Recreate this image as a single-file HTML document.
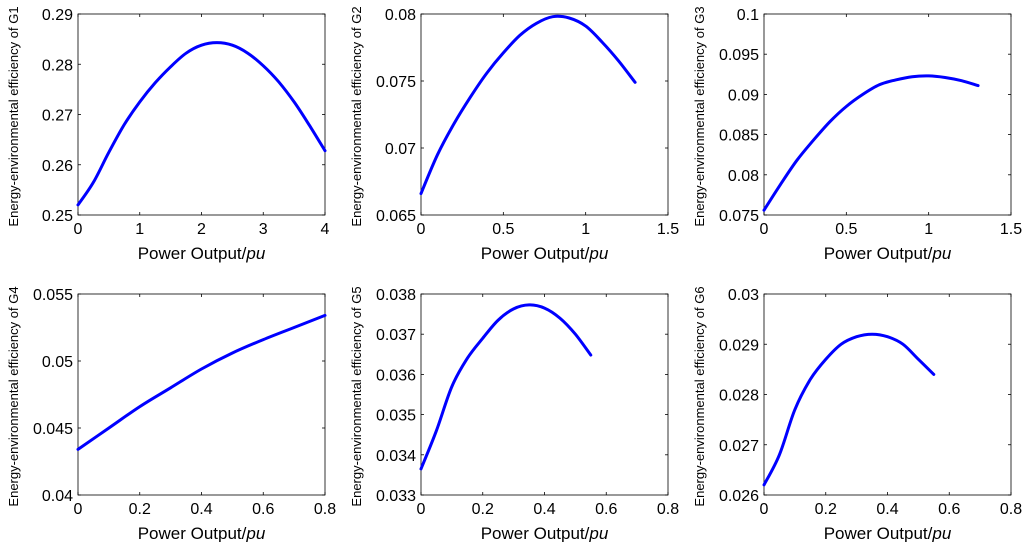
<!DOCTYPE html>
<html><head><meta charset="utf-8"><style>
html,body{margin:0;padding:0;background:#fff;width:1024px;height:542px;overflow:hidden}
svg text{font-family:"Liberation Sans",Arial,sans-serif;fill:#000}
</style></head><body>
<svg id="chart" width="1024" height="542" xmlns="http://www.w3.org/2000/svg"></svg>
<script>
const g1X=[0,0.25,0.5,0.75,1,1.25,1.5,1.75,2,2.25,2.5,2.75,3,3.25,3.5,3.75,4];
const g1Y=[0.252,0.2565,0.2625,0.268,0.2725,0.2763,0.2795,0.2822,0.2838,0.2843,0.2838,0.2822,0.2797,0.2765,0.2725,0.2678,0.2628];
const g2X=[0,0.1,0.2,0.3,0.4,0.5,0.6,0.7,0.8,0.9,1.0,1.1,1.2,1.3];
const g2Y=[0.0666,0.0695,0.0718,0.0738,0.0756,0.0771,0.0784,0.0793,0.0798,0.0797,0.0791,0.0779,0.0765,0.0749];
const g3X=[0,0.1,0.2,0.3,0.4,0.5,0.6,0.7,0.8,0.9,1.0,1.1,1.2,1.3];
const g3Y=[0.0756,0.0788,0.0818,0.0843,0.0866,0.0885,0.09,0.0912,0.0918,0.0922,0.0923,0.0921,0.0917,0.0911];
const g4X=[0,0.1,0.2,0.3,0.4,0.5,0.6,0.7,0.8];
const g4Y=[0.0434,0.045,0.0466,0.048,0.0494,0.0506,0.0516,0.0525,0.0534];
const g5X=[0,0.05,0.1,0.15,0.2,0.25,0.3,0.35,0.4,0.45,0.5,0.55];
const g5Y=[0.03365,0.0346,0.0357,0.0364,0.0369,0.03735,0.03763,0.03773,0.03765,0.0374,0.037,0.03648];
const g6X=[0,0.05,0.1,0.15,0.2,0.25,0.3,0.35,0.4,0.45,0.5,0.55];
const g6Y=[0.0262,0.0268,0.0277,0.0283,0.0287,0.029,0.02915,0.0292,0.02915,0.029,0.0287,0.0284];
const xTicks1=["0","1","2","3","4"];
const xTicks2=["0","0.5","1","1.5"];
const xTicks3=["0","0.5","1","1.5"];
const xTicks4=["0","0.2","0.4","0.6","0.8"];
const xTicks5=["0","0.2","0.4","0.6","0.8"];
const xTicks6=["0","0.2","0.4","0.6","0.8"];
const yTicks1=["0.25","0.26","0.27","0.28","0.29"];
const yTicks2=["0.065","0.07","0.075","0.08"];
const yTicks3=["0.075","0.08","0.085","0.09","0.095","0.1"];
const yTicks4=["0.04","0.045","0.05","0.055"];
const yTicks5=["0.033","0.034","0.035","0.036","0.037","0.038"];
const yTicks6=["0.026","0.027","0.028","0.029","0.03"];

const svg=document.getElementById('chart');
const NS='http://www.w3.org/2000/svg';
function mk(t,a){const e=document.createElementNS(NS,t);for(const k in a)e.setAttribute(k,a[k]);svg.appendChild(e);return e;}
const panels=[
 {n:1,x:g1X,y:g1Y,xt:xTicks1,yt:yTicks1,L:78,T:14},
 {n:2,x:g2X,y:g2Y,xt:xTicks2,yt:yTicks2,L:421,T:14},
 {n:3,x:g3X,y:g3Y,xt:xTicks3,yt:yTicks3,L:764,T:14},
 {n:4,x:g4X,y:g4Y,xt:xTicks4,yt:yTicks4,L:78,T:294},
 {n:5,x:g5X,y:g5Y,xt:xTicks5,yt:yTicks5,L:421,T:294},
 {n:6,x:g6X,y:g6Y,xt:xTicks6,yt:yTicks6,L:764,T:294}];
const W=247,H=201;
panels.forEach(p=>{
 const L=p.L,T=p.T,R=L+W,B=T+H;
 const x0=+p.xt[0],x1=+p.xt[p.xt.length-1],y0=+p.yt[0],y1=+p.yt[p.yt.length-1];
 const sx=v=>L+(v-x0)/(x1-x0)*W, sy=v=>B-(v-y0)/(y1-y0)*H;
 const box=mk('rect',{x:L,y:T,width:W,height:H,fill:'none',stroke:'#000','stroke-width':0.8});
 
 
 p.xt.forEach(t=>{const X=sx(+t);
  mk('line',{x1:X,y1:B,x2:X,y2:B-3,stroke:'#000','stroke-width':0.8});
  mk('line',{x1:X,y1:T,x2:X,y2:T+3,stroke:'#000','stroke-width':0.8});
  const tx=mk('text',{x:X,y:B+19,'font-size':16,'text-anchor':'middle'});tx.textContent=t;
  
  });
 p.yt.forEach(t=>{const Y=sy(+t);
  mk('line',{x1:L,y1:Y,x2:L+3,y2:Y,stroke:'#000','stroke-width':0.8});
  mk('line',{x1:R,y1:Y,x2:R-3,y2:Y,stroke:'#000','stroke-width':0.8});
  const tx=mk('text',{x:L-5,y:Y+6,'font-size':16,'text-anchor':'end'});tx.textContent=t;
  
  });
 const xl=mk('text',{x:L+W/2,y:B+44,'font-size':17,'text-anchor':'middle'});
 xl.innerHTML='Power Output/<tspan font-style="italic">pu</tspan>';
 
 
 const yl=mk('text',{x:0,y:0,'font-size':13,'text-anchor':'middle',transform:`translate(${L-60},${T+H/2+2}) rotate(-90)`});
 yl.textContent='Energy-environmental efficiency of G'+p.n;
 
 
 const pts=p.x.map((v,i)=>[sx(v),sy(p.y[i])]);
 let d='M'+pts[0][0].toFixed(1)+' '+pts[0][1].toFixed(1);
 for(let i=0;i<pts.length-1;i++){
  const p0=pts[Math.max(i-1,0)],p1=pts[i],p2=pts[i+1],p3=pts[Math.min(i+2,pts.length-1)];
  const c1=[p1[0]+(p2[0]-p0[0])/6,p1[1]+(p2[1]-p0[1])/6],c2=[p2[0]-(p3[0]-p1[0])/6,p2[1]-(p3[1]-p1[1])/6];
  d+=` C${c1[0].toFixed(1)} ${c1[1].toFixed(1)} ${c2[0].toFixed(1)} ${c2[1].toFixed(1)} ${p2[0].toFixed(1)} ${p2[1].toFixed(1)}`;
 }
 const ln=mk('path',{d:d,fill:'none',stroke:'#0000ff','stroke-width':3,'stroke-linejoin':'round','stroke-linecap':'round'});
 
 
});
</script>
</body></html>
